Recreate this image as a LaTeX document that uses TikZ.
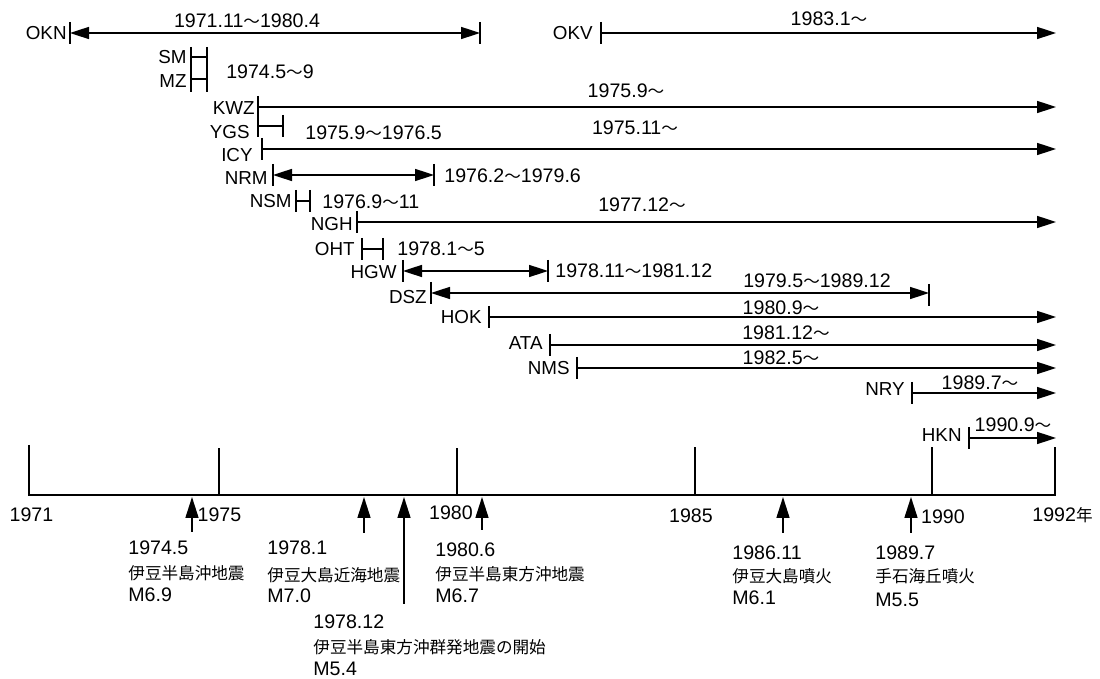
\documentclass[tikz,border=0pt]{standalone}
\usepackage{fontspec}
\setmainfont{Liberation Sans}
\newfontfamily\cjkfont{Noto Sans CJK JP}
\usetikzlibrary{arrows.meta}
\newcommand{\jp}{\fontsize{8.3pt}{10pt}\cjkfont}
\newcommand{\wv}{{\jp ～}}
\tikzset{
  lbl/.style={font=\fontsize{9.8pt}{11pt}\selectfont, inner sep=0pt},
  stn/.style={font=\fontsize{9.4pt}{11pt}\selectfont, inner sep=0pt, anchor=base east},
  ln/.style={line width=0.8pt},
  ar/.style={ln, -{Triangle[length=9.5pt,width=6pt]}},
  dar/.style={ln, {Triangle[length=9.5pt,width=6pt]}-{Triangle[length=9.5pt,width=6pt]}},
  evar/.style={ln, -{Triangle[length=10.5pt,width=6.5pt]}},
  jtxt/.style={font=\jp, inner sep=0pt, anchor=base west},
  ntxt/.style={lbl, anchor=base west},
  vbar/.pic={\draw[line width=0.8pt] (0,-11) -- (0,11);}
}
\begin{document}
\begin{tikzpicture}[x=0.5pt,y=-0.5pt]
\useasboundingbox (0,0) rectangle (1100,679);

% ---------- OKN ----------
\node[stn] (OKN) at (67,39.5) {OKN};
\coordinate (okn-s) at (70,33); \coordinate (okn-e) at (480,33);
\draw[dar] (okn-s) -- (okn-e);
\pic at (okn-s) {vbar}; \pic at (okn-e) {vbar};
\node[lbl, anchor=base] (t-okn) at (247,27.5) {1971.11\wv 1980.4};

% ---------- OKV ----------
\node[stn] (OKV) at (593,39.5) {OKV};
\coordinate (okv-s) at (601,33); \coordinate (okv-e) at (1056,33);
\draw[ar] (okv-s) -- (okv-e);
\pic at (okv-s) {vbar};
\node[lbl, anchor=base] (t-okv) at (829,25.5) {1983.1\wv};

% ---------- SM / MZ ----------
\node[stn] (SM) at (187,63.5) {SM};
\node[stn] (MZ) at (187,87.5) {MZ};
\coordinate (sm-s) at (191,57); \coordinate (sm-e) at (207,57);
\coordinate (mz-s) at (191,79); \coordinate (mz-e) at (207,79);
\draw[ln] (sm-s) -- (sm-e);
\draw[ln] (mz-s) -- (mz-e);
\draw[ln] (sm-s) ++(0,-10) -- (mz-s) -- ++(0,13);
\draw[ln] (sm-e) ++(0,-10) -- (mz-e) -- ++(0,13);
\node[lbl, anchor=base] (t-smmz) at (270,78.5) {1974.5\wv 9};

% ---------- KWZ ----------
\node[stn] (KWZ) at (255,114.5) {KWZ};
\coordinate (kwz-s) at (258,107); \coordinate (kwz-e) at (1056,107);
\draw[ar] (kwz-s) -- (kwz-e);
\pic at (kwz-s) {vbar};
\node[lbl, anchor=base] (t-kwz) at (626,97.5) {1975.9\wv};

% ---------- YGS ----------
\node[stn] (YGS) at (250,138.5) {YGS};
\coordinate (ygs-s) at (258,126); \coordinate (ygs-e) at (283,126);
\draw[ln] (ygs-s) -- (ygs-e);
\pic at (ygs-s) {vbar}; \pic at (ygs-e) {vbar};
\node[ntxt] (t-ygs) at (305,139.5) {1975.9\wv 1976.5};

% ---------- ICY ----------
\node[stn] (ICY) at (253,161.5) {ICY};
\coordinate (icy-s) at (262,149); \coordinate (icy-e) at (1056,149);
\draw[ar] (icy-s) -- (icy-e);
\pic at (icy-s) {vbar};
\node[lbl, anchor=base] (t-icy) at (635,134.5) {1975.11\wv};

% ---------- NRM ----------
\node[stn] (NRM) at (268,184.5) {NRM};
\coordinate (nrm-s) at (273,175); \coordinate (nrm-e) at (434,175);
\draw[dar] (nrm-s) -- (nrm-e);
\pic at (nrm-s) {vbar}; \pic at (nrm-e) {vbar};
\node[ntxt] (t-nrm) at (444,182.5) {1976.2\wv 1979.6};

% ---------- NSM ----------
\node[stn] (NSM) at (292,207.5) {NSM};
\coordinate (nsm-s) at (296,201); \coordinate (nsm-e) at (310,201);
\draw[ln] (nsm-s) -- (nsm-e);
\pic at (nsm-s) {vbar}; \pic at (nsm-e) {vbar};
\node[ntxt] (t-nsm) at (322,208.5) {1976.9\wv 11};

% ---------- NGH ----------
\node[stn] (NGH) at (353,230.5) {NGH};
\coordinate (ngh-s) at (357,222); \coordinate (ngh-e) at (1056,222);
\draw[ar] (ngh-s) -- (ngh-e);
\pic at (ngh-s) {vbar};
\node[lbl, anchor=base] (t-ngh) at (642,211.5) {1977.12\wv};

% ---------- OHT ----------
\node[stn] (OHT) at (355,255.5) {OHT};
\coordinate (oht-s) at (362,249); \coordinate (oht-e) at (383,249);
\draw[ln] (oht-s) -- (oht-e);
\pic at (oht-s) {vbar}; \pic at (oht-e) {vbar};
\node[ntxt] (t-oht) at (397,255.5) {1978.1\wv 5};

% ---------- HGW ----------
\node[stn] (HGW) at (397,278.5) {HGW};
\coordinate (hgw-s) at (403,271); \coordinate (hgw-e) at (548,271);
\draw[dar] (hgw-s) -- (hgw-e);
\pic at (hgw-s) {vbar}; \pic at (hgw-e) {vbar};
\node[ntxt] (t-hgw) at (555,277.5) {1978.11\wv 1981.12};

% ---------- DSZ ----------
\node[stn] (DSZ) at (427,303.5) {DSZ};
\coordinate (dsz-s) at (431,293); \coordinate (dsz-e) at (929,293);
\draw[dar] (dsz-s) -- (dsz-e);
\pic at (dsz-s) {vbar}; \pic at ([yshift=-1pt]dsz-e) {vbar};
\node[lbl, anchor=base] (t-dsz) at (817,288) {1979.5\wv 1989.12};

% ---------- HOK ----------
\node[stn] (HOK) at (482,323.5) {HOK};
\coordinate (hok-s) at (489,317); \coordinate (hok-e) at (1056,317);
\draw[ar] (hok-s) -- (hok-e);
\pic at (hok-s) {vbar};
\node[lbl, anchor=base] (t-hok) at (781,315) {1980.9\wv};

% ---------- ATA ----------
\node[stn] (ATA) at (543,349.5) {ATA};
\coordinate (ata-s) at (550,345); \coordinate (ata-e) at (1056,345);
\draw[ar] (ata-s) -- (ata-e);
\pic at (ata-s) {vbar};
\node[lbl, anchor=base] (t-ata) at (786,340) {1981.12\wv};

% ---------- NMS ----------
\node[stn] (NMS) at (570,374.5) {NMS};
\coordinate (nms-s) at (577,368); \coordinate (nms-e) at (1056,368);
\draw[ar] (nms-s) -- (nms-e);
\pic at (nms-s) {vbar};
\node[lbl, anchor=base] (t-nms) at (781,365) {1982.5\wv};

% ---------- NRY ----------
\node[stn] (NRY) at (905,395.5) {NRY};
\coordinate (nry-s) at (912,393); \coordinate (nry-e) at (1056,393);
\draw[ar] (nry-s) -- (nry-e);
\pic at (nry-s) {vbar};
\node[lbl, anchor=base] (t-nry) at (980,390) {1989.7\wv};

% ---------- HKN ----------
\node[stn] (HKN) at (962,441.5) {HKN};
\coordinate (hkn-s) at (969,438); \coordinate (hkn-e) at (1056,438);
\draw[ar] (hkn-s) -- (hkn-e);
\pic at (hkn-s) {vbar};
\node[lbl, anchor=base] (t-hkn) at (1013,432) {1990.9\wv};

% ---------- time axis ----------
\coordinate (y71) at (29,495);
\coordinate (y75) at (219,495);
\coordinate (y80) at (457,495);
\coordinate (y85) at (695,495);
\coordinate (y90) at (932,495);
\coordinate (y92) at (1055,495);
\draw[ln] (y71) ++(0,-50) -- (y71) -- (y92) -- ++(0,-48);
\draw[ln] (y75) -- ++(0,-47);
\draw[ln] (y80) -- ++(0,-47);
\draw[ln] (y85) -- ++(0,-48);
\draw[ln] (y90) -- ++(0,-48);

\node[lbl, anchor=base] (l71) at (31.5,521.5) {1971};
\node[lbl, anchor=base] (l75) at (219.5,521.5) {1975};
\node[lbl, anchor=base] (l80) at (451,519.5) {1980};
\node[lbl, anchor=base] (l85) at (691,522.5) {1985};
\node[lbl, anchor=base] (l90) at (943,523.5) {1990};
\node[ntxt] (l92) at (1032,521.5) {1992{\jp 年}};

% ---------- events ----------
\coordinate (ev1-b) at (192,532); \coordinate (ev1-t) at (192,497);
\coordinate (ev2-b) at (364,533); \coordinate (ev2-t) at (364,497);
\coordinate (ev3-b) at (404,604); \coordinate (ev3-t) at (404,497);
\coordinate (ev4-b) at (482,530); \coordinate (ev4-t) at (482,497);
\coordinate (ev5-b) at (783,533); \coordinate (ev5-t) at (783,497);
\coordinate (ev6-b) at (911,533); \coordinate (ev6-t) at (911,497);
\draw[evar] (ev1-b) -- (ev1-t);
\draw[evar] (ev2-b) -- (ev2-t);
\draw[evar] (ev3-b) -- (ev3-t);
\draw[evar] (ev4-b) -- (ev4-t);
\draw[evar] (ev5-b) -- (ev5-t);
\draw[evar] (ev6-b) -- (ev6-t);

\node[ntxt] (e1a) at (128,554.5) {1974.5};
\node[jtxt] (e1b) at (128,579.5) {伊豆半島沖地震};
\node[ntxt] (e1c) at (128,601.5) {M6.9};

\node[ntxt] (e2a) at (267,554.5) {1978.1};
\node[jtxt] (e2b) at (267,582) {伊豆大島近海地震};
\node[ntxt] (e2c) at (267,602.5) {M7.0};

\node[ntxt] (e3a) at (313,628.5) {1978.12};
\node[jtxt] (e3b) at (313,654) {伊豆半島東方沖群発地震の開始};
\node[ntxt] (e3c) at (313,675.5) {M5.4};

\node[ntxt] (e4a) at (435,556.5) {1980.6};
\node[jtxt] (e4b) at (435,581) {伊豆半島東方沖地震};
\node[ntxt] (e4c) at (435,602.5) {M6.7};

\node[ntxt] (e5a) at (732,559.5) {1986.11};
\node[jtxt] (e5b) at (732,583) {伊豆大島噴火};
\node[ntxt] (e5c) at (732,604.5) {M6.1};

\node[ntxt] (e6a) at (875,559.5) {1989.7};
\node[jtxt] (e6b) at (875,583) {手石海丘噴火};
\node[ntxt] (e6c) at (875,606.5) {M5.5};
\end{tikzpicture}
\end{document}
